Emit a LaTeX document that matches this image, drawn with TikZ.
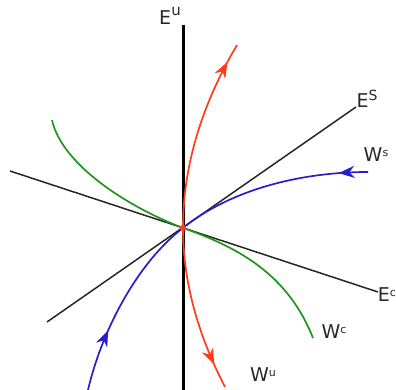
\documentclass[tikz,border=0pt]{standalone}
\usepackage{fontspec}
\setmainfont{DejaVu Sans}
\usetikzlibrary{arrows.meta,decorations.markings}
\definecolor{cred}{RGB}{255,60,30}
\definecolor{cblue}{RGB}{40,30,200}
\definecolor{cgreen}{RGB}{30,150,30}
\definecolor{ctext}{RGB}{40,40,40}
\tikzset{
  axis/.style={line width=1.5pt, black!85},
  mainaxis/.style={line width=3pt, black},
  curve/.style={line width=1.7pt},
  arrowat/.style={postaction={decorate},decoration={markings,
     mark=at position #1 with {\arrow{Stealth[length=16pt,width=12pt,inset=5pt]}}}},
  lbl/.style={font=\fontsize{19}{21}\selectfont, text=ctext, inner sep=0pt}
}
\begin{document}
\begin{tikzpicture}[x=1pt,y=-1pt]
\useasboundingbox (0,0) rectangle (396,390);
% coordinates
\coordinate (O) at (183,228);
\coordinate (EuT) at (183,25);
\coordinate (EuB) at (183,392);
\coordinate (EsA) at (47,322);
\coordinate (EsB) at (356,107);
\coordinate (EcA) at (10,171);
\coordinate (EcB) at (378,292);
\coordinate (WuT) at (237,45);
\coordinate (WuB) at (225,387);
\coordinate (WsR) at (368,172);
\coordinate (WsL) at (88,390);
\coordinate (WcT) at (52,120);
\coordinate (WcB) at (313,338);
% axes
\draw[axis] (EcA) -- (EcB);
\draw[axis] (EsA) -- (EsB);
% green centre manifold
\draw[curve, cgreen] (WcT) .. controls (62,165) and (128,207) .. (O);
\draw[curve, cgreen] (O) .. controls (240,248) and (288,275) .. (WcB);
% blue stable manifold
\draw[curve, cblue, arrowat=0.15] (WsR) .. controls (300,172) and (230,190) .. (O);
\draw[curve, cblue, arrowat=0.33] (WsL) .. controls (104,322) and (143,258) .. (O);
% vertical axis
\draw[mainaxis] (EuT) -- (EuB);
% red unstable manifold
\draw[curve, cred, arrowat=0.9] (O) .. controls (183,167) and (201,106) .. (WuT);
\draw[curve, cred, arrowat=0.85] (O) .. controls (183,280) and (197,333) .. (WuB);
% fixed point
\fill[cred] (O) circle (3.2pt);
% labels
\node[lbl] (lEu) at (170,16) {E\raisebox{0.5em}{\fontsize{15}{15}\selectfont u}};
\node[lbl] (lEs) at (367,99) {E\raisebox{0.4em}{\fontsize{14}{14}\selectfont S}};
\node[lbl] (lWs) at (376,155) {W\raisebox{0.3em}{\fontsize{11}{11}\selectfont s}};
\node[lbl, anchor=east] (lEc) at (396,295) {E\raisebox{0.3em}{\fontsize{11}{11}\selectfont c}};
\node[lbl] (lWc) at (334,332) {W\raisebox{0.3em}{\fontsize{11}{11}\selectfont c}};
\node[lbl] (lWu) at (263,375) {W\raisebox{0.3em}{\fontsize{11}{11}\selectfont u}};
\end{tikzpicture}
\end{document}
